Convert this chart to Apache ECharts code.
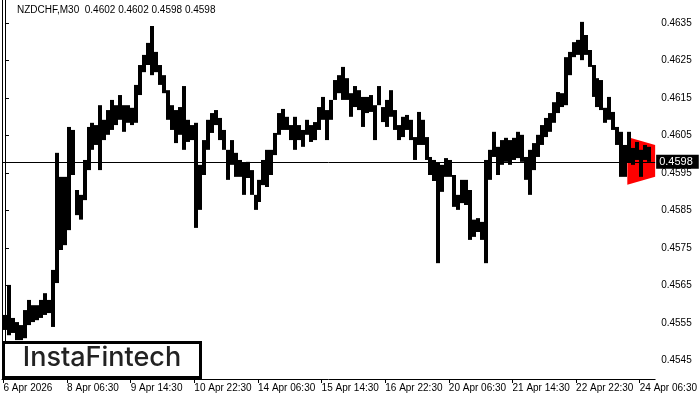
<!DOCTYPE html>
<html><head><meta charset="utf-8">
<script src="https://cdn.jsdelivr.net/npm/echarts@6/dist/echarts.min.js"></script>
<style>html,body{margin:0;padding:0;background:#fff}#c{width:700px;height:400px}</style>
</head><body><div id="c"></div>
<script>
// ---- data (2-hour aggregates of the M30 bars) ----
const symbolTitle = 'NZDCHF,M30  0.4602 0.4602 0.4598 0.4598';
const xLabels = ['6 Apr 2026','8 Apr 06:30','9 Apr 14:30','10 Apr 22:30','14 Apr 06:30','15 Apr 14:30','16 Apr 22:30','20 Apr 06:30','21 Apr 14:30','22 Apr 22:30','24 Apr 06:30'];
const yTickValues = [0.4545,0.4555,0.4565,0.4575,0.4585,0.4595,0.4605,0.4615,0.4625,0.4635];
const currentPrice = 0.4598;
const barHighs = [
0.45572,0.45652,0.45564,0.45553,0.45545,0.45585,0.45612,0.45598,0.45598,0.45612,
0.45630,0.45612,0.45692,0.46004,0.45940,0.45940,0.46073,0.46065,0.45905,0.45892,
0.45985,0.46073,0.46084,0.46078,0.46131,0.46092,0.46118,0.46145,0.46131,0.46158,
0.46131,0.46131,0.46124,0.46185,0.46238,0.46265,0.46297,0.46342,0.46273,0.46238,
0.46211,0.46171,0.46131,0.46118,0.46126,0.46182,0.46092,0.46078,0.46084,0.45972,
0.46038,0.46092,0.46110,0.46118,0.46097,0.46065,0.46012,0.46038,0.46004,0.45985,
0.45977,0.45980,0.45958,0.45892,0.45932,0.45985,0.46012,0.46012,0.46057,0.46110,
0.46121,0.46100,0.46078,0.46100,0.46078,0.46065,0.46092,0.46078,0.46086,0.46126,
0.46153,0.46118,0.46145,0.46198,0.46211,0.46233,0.46203,0.46163,0.46182,0.46171,
0.46153,0.46153,0.46158,0.46131,0.46182,0.46126,0.46145,0.46171,0.46118,0.46078,
0.46100,0.46105,0.46092,0.46046,0.46113,0.46092,0.46046,0.45993,0.45985,0.45977,
0.45972,0.45990,0.45985,0.45945,0.45892,0.45932,0.45932,0.45905,0.45826,0.45830,
0.45820,0.45985,0.46012,0.46060,0.46020,0.46038,0.46044,0.46038,0.46044,0.46060,
0.46052,0.45993,0.46012,0.46030,0.46052,0.46078,0.46097,0.46110,0.46139,0.46166,
0.46163,0.46259,0.46273,0.46299,0.46305,0.46353,0.46318,0.46278,0.46238,0.46203,
0.46198,0.46124,0.46153,0.46113,0.46073,0.46060,0.46025,0.46060,0.46017,0.46033,
0.46012,0.46025,0.46020];
const barLows = [
0.45532,0.45518,0.45524,0.45505,0.45505,0.45510,0.45545,0.45553,0.45558,0.45564,
0.45572,0.45577,0.45540,0.45657,0.45745,0.45758,0.45798,0.45945,0.45838,0.45826,
0.45878,0.45958,0.46012,0.46025,0.45958,0.46038,0.46052,0.46065,0.46078,0.46092,
0.46060,0.46084,0.46078,0.46084,0.46158,0.46219,0.46238,0.46211,0.46219,0.46185,
0.46163,0.46092,0.46065,0.46030,0.46052,0.46012,0.46033,0.46038,0.45804,0.45852,
0.45945,0.46012,0.46057,0.46078,0.46038,0.46012,0.45932,0.45972,0.45940,0.45940,
0.45892,0.45937,0.45892,0.45852,0.45873,0.45918,0.45913,0.45945,0.45998,0.46052,
0.46065,0.46065,0.46038,0.46012,0.46038,0.46020,0.46052,0.46033,0.46038,0.46065,
0.46092,0.46038,0.46092,0.46145,0.46163,0.46145,0.46145,0.46100,0.46126,0.46118,
0.46073,0.46110,0.46113,0.46038,0.46131,0.46086,0.46073,0.46100,0.46065,0.46038,
0.46046,0.46065,0.46038,0.45985,0.46025,0.46025,0.45985,0.45945,0.45929,0.45710,
0.45900,0.45940,0.45940,0.45860,0.45852,0.45870,0.45865,0.45772,0.45780,0.45793,
0.45772,0.45710,0.45932,0.45993,0.45945,0.45972,0.45980,0.45972,0.45985,0.45990,
0.45980,0.45932,0.45892,0.45958,0.45993,0.46025,0.46046,0.46060,0.46084,0.46110,
0.46126,0.46131,0.46211,0.46259,0.46265,0.46251,0.46265,0.46233,0.46153,0.46126,
0.46118,0.46084,0.46092,0.46065,0.46025,0.45940,0.45940,0.45977,0.45972,0.45985,
0.45940,0.45985,0.45980];
// pattern triangle (bar index, price)
const triangleX = [156.5, 163.5, 163.5, 156.5];
const triangleY = [0.46046, 0.46025, 0.45940, 0.45919];

// ---- chart ----
const barsPerLabel = 16; // 32 hours of 2-hour bars
const xTickValues = xLabels.map((_, i) => -0.375 + i * barsPerLabel);
const yMin = 0.454013, yMax = 0.464113;
const font = 'Liberation Sans';

const chart = echarts.init(document.getElementById('c'), null, {renderer: 'canvas'});
chart.setOption({
  animation: false,
  backgroundColor: '#fff',
  title: {text: symbolTitle, left: 17, top: 5, padding: 0,
    textStyle: {fontSize: 10, fontWeight: 'normal', color: '#000', fontFamily: font}},
  grid: {left: 2, right: 41, top: 0, bottom: 21, show: false},
  xAxis: {
    type: 'value', min: -0.75, max: 163.5,
    axisLine: {show: true, lineStyle: {color: '#000', width: 1}},
    axisTick: {show: true, customValues: xTickValues, length: 4, lineStyle: {color: '#000'}},
    axisLabel: {show: true, customValues: xTickValues, align: 'left', margin: 4,
      fontSize: 10, color: '#000', fontFamily: font,
      formatter: v => xLabels[Math.round((v - xTickValues[0]) / barsPerLabel)] || ''},
    splitLine: {show: false}
  },
  yAxis: [{
    type: 'value', position: 'right', min: yMin, max: yMax, scale: true,
    axisLine: {show: true, lineStyle: {color: '#000', width: 1}},
    axisTick: {show: true, customValues: yTickValues, length: 4, lineStyle: {color: '#000'}},
    axisLabel: {show: true, customValues: yTickValues, margin: 6, fontSize: 10, color: '#000',
      fontFamily: font, padding: [3, 0, 0, 0], formatter: v => v.toFixed(4)},
    splitLine: {show: false}
  }, {
    type: 'value', position: 'left', min: yMin, max: yMax, scale: true,
    axisLine: {show: true, lineStyle: {color: '#000', width: 1}},
    axisTick: {show: false}, axisLabel: {show: false}, splitLine: {show: false}
  }],
  series: [{
    type: 'custom', name: 'pattern', z: 1, silent: true,
    data: [[triangleX[0], triangleY[0]]],
    renderItem: (params, api) => ({
      type: 'polygon',
      shape: {points: triangleX.map((x, i) => api.coord([x, triangleY[i]]))},
      style: {fill: '#ff0000'}
    })
  }, {
    type: 'custom', name: 'NZDCHF', z: 2, silent: true,
    data: barHighs.map((h, i) => [i, h, barLows[i]]),
    encode: {x: 0, y: [1, 2]},
    renderItem: (params, api) => {
      const k = api.value(0);
      const top = api.coord([k, api.value(1)]);
      const bot = api.coord([k, api.value(2)]);
      const w = api.size([1, 0])[0];
      return {type: 'rect',
        shape: {x: Math.round(top[0] - w / 2), y: top[1], width: Math.round(w), height: Math.max(1, bot[1] - top[1])},
        style: {fill: '#000'}};
    },
    markLine: {
      silent: true, symbol: 'none', animation: false, precision: 5,
      lineStyle: {color: '#000', width: 1, type: 'solid'},
      label: {show: true, position: 'end', distance: 1, formatter: currentPrice.toFixed(4),
        backgroundColor: '#000', color: '#fff', fontSize: 11, fontFamily: font,
        padding: [2, 6, 1, 3]},
      data: [{yAxis: currentPrice}]
    }
  }],
  graphic: [
    {type: 'rect', z: 100, shape: {x: 3.5, y: 342.5, width: 197, height: 35},
      style: {fill: '#fff', stroke: '#000', lineWidth: 3}},
    {type: 'text', z: 101, x: 102, y: 358,
      style: {text: 'InstaFintech', fontSize: 27, fontWeight: 500, fontFamily: 'Inter',
        fill: '#222', align: 'center', verticalAlign: 'middle'}}
  ]
});
</script></body></html>
